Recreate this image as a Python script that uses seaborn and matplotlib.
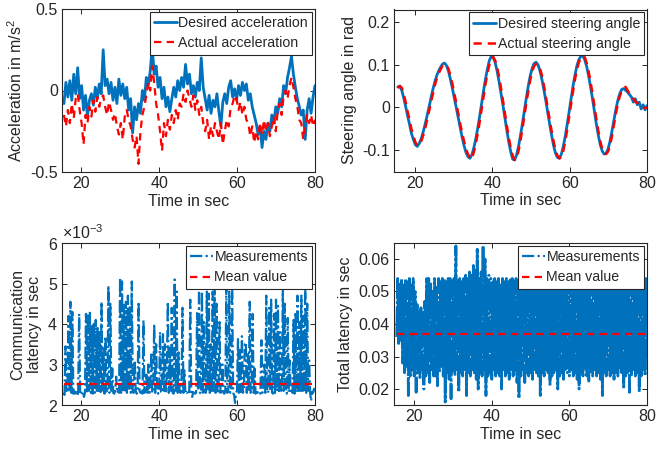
import numpy as np
import pandas as pd
import matplotlib
matplotlib.use("Agg")
import matplotlib.pyplot as plt
import seaborn as sns
from matplotlib.ticker import FuncFormatter

# ---------------- data ----------------
# acceleration, 0.5 s spacing starting ~15.6 s
acc_desired = [
    -0.08, 0.05, -0.04, 0.06, -0.06, 0.10, -0.02, 0.14, -0.05, 0.03,
    -0.12, -0.03, -0.16, -0.06, -0.02, -0.09, 0.02, -0.05, 0.04, -0.02,
    0.25, 0.03, 0.07, -0.02, 0.05, -0.06, 0.02, -0.08, 0.07, -0.03,
    0.04, -0.05, 0.02, -0.12, -0.05, -0.26, -0.10, -0.18, -0.08, -0.14,
    0.00, -0.06, 0.08, 0.03, 0.12, 0.27, 0.10, 0.15, 0.02, 0.08,
    -0.05, 0.02, -0.10, -0.04, -0.13, -0.05, 0.02, -0.04, 0.06, 0.00,
    0.08, 0.02, 0.16, 0.04, 0.10, -0.02, 0.03, -0.04, 0.05, 0.00,
    0.20, 0.02, -0.05, -0.12, -0.03, -0.14, -0.06, -0.10, -0.02, -0.13,
    -0.22, -0.07, -0.02, -0.08, 0.02, 0.06, -0.04, 0.01, -0.06, 0.03,
    -0.03, 0.05, 0.00, 0.04, -0.06, -0.02, -0.10, -0.15, -0.20, -0.27,
    -0.22, -0.35, -0.25, -0.30, -0.20, -0.25, -0.15, -0.20, -0.10, -0.14,
    -0.05, -0.10, 0.03, -0.02, 0.08, 0.14, 0.21, 0.10, 0.02, -0.05,
    -0.10, -0.15, -0.12, -0.30, -0.12, -0.05, -0.14, -0.04, 0.03,
]
acc_actual = [
    -0.15, -0.22, -0.12, -0.20, -0.08, -0.17, -0.05, -0.02, -0.12, -0.20,
    -0.33, -0.15, -0.20, -0.10, -0.16, -0.06, -0.13, -0.04, -0.10, -0.05,
    -0.03, -0.10, -0.15, -0.07, -0.12, -0.18, -0.14, -0.22, -0.27, -0.20,
    -0.30, -0.16, -0.12, -0.18, -0.22, -0.30, -0.35, -0.28, -0.45, -0.25,
    -0.15, -0.10, -0.03, 0.05, 0.00, 0.15, 0.05, -0.08, -0.15, -0.25,
    -0.37, -0.20, -0.28, -0.18, -0.24, -0.15, -0.20, -0.12, -0.18, -0.08,
    -0.10, -0.02, -0.07, 0.00, -0.05, -0.10, -0.03, -0.12, -0.06, -0.15,
    -0.10, -0.20, -0.25, -0.18, -0.30, -0.22, -0.28, -0.20, -0.25, -0.30,
    -0.20, -0.33, -0.25, -0.18, -0.22, -0.10, -0.08, -0.03, -0.05, -0.12,
    -0.07, -0.15, -0.10, -0.18, -0.20, -0.28, -0.22, -0.32, -0.25, -0.30,
    -0.20, -0.27, -0.18, -0.25, -0.20, -0.28, -0.22, -0.16, -0.25, -0.12,
    -0.08, -0.15, -0.03, 0.00, -0.05, 0.03, 0.08, 0.02, -0.05, -0.10,
    -0.18, -0.20, -0.30, -0.22, -0.15, -0.20, -0.15, -0.22, -0.18,
]

# steering angle, 0.5 s spacing
steer_desired = [
    0.048, 0.050, 0.040, 0.022, 0.002, -0.020, -0.040, -0.062, -0.076, -0.088,
    -0.092, -0.085, -0.074, -0.058, -0.040, -0.020, 0.000, 0.022, 0.042, 0.060,
    0.075, 0.086, 0.095, 0.102, 0.104, 0.098, 0.085, 0.066, 0.045, 0.022,
    0.000, -0.024, -0.048, -0.070, -0.090, -0.106, -0.116, -0.120, -0.112, -0.096,
    -0.075, -0.050, -0.022, 0.008, 0.038, 0.066, 0.090, 0.110, 0.120, 0.118,
    0.105, 0.085, 0.060, 0.033, 0.005, -0.025, -0.055, -0.082, -0.105, -0.122,
    -0.124, -0.112, -0.092, -0.066, -0.038, -0.008, 0.022, 0.050, 0.074, 0.092,
    0.103, 0.106, 0.100, 0.086, 0.066, 0.042, 0.016, -0.012, -0.040, -0.066,
    -0.090, -0.108, -0.118, -0.120, -0.110, -0.092, -0.068, -0.040, -0.010, 0.020,
    0.050, 0.076, 0.098, 0.112, 0.120, 0.121, 0.112, 0.096, 0.074, 0.048,
    0.020, -0.010, -0.040, -0.066, -0.088, -0.103, -0.110, -0.108, -0.098, -0.080,
    -0.056, -0.030, -0.005, 0.016, 0.032, 0.042, 0.044, 0.040, 0.036, 0.030,
    0.024, 0.012, 0.020, 0.006, 0.012, -0.004, 0.006, -0.006, 0.004,
]
steer_actual = [
    0.045, 0.050, 0.046, 0.032, 0.012, -0.010, -0.030, -0.052, -0.068, -0.082,
    -0.090, -0.088, -0.080, -0.066, -0.050, -0.030, -0.010, 0.012, 0.032, 0.052,
    0.068, 0.080, 0.090, 0.098, 0.100, 0.100, 0.090, 0.075, 0.055, 0.033,
    0.010, -0.014, -0.038, -0.060, -0.080, -0.098, -0.110, -0.118, -0.122, -0.106,
    -0.086, -0.062, -0.035, -0.005, 0.025, 0.054, 0.080, 0.100, 0.115, 0.118,
    0.110, 0.094, 0.072, 0.045, 0.016, -0.014, -0.044, -0.072, -0.096, -0.114,
    -0.124, -0.120, -0.102, -0.078, -0.050, -0.020, 0.010, 0.038, 0.064, 0.084,
    0.097, 0.102, 0.100, 0.092, 0.075, 0.052, 0.026, -0.002, -0.030, -0.056,
    -0.080, -0.100, -0.114, -0.120, -0.118, -0.102, -0.080, -0.052, -0.022, 0.008,
    0.038, 0.066, 0.088, 0.106, 0.116, 0.120, 0.118, 0.104, 0.084, 0.060,
    0.032, 0.002, -0.028, -0.056, -0.080, -0.098, -0.108, -0.110, -0.104, -0.090,
    -0.068, -0.042, -0.015, 0.008, 0.026, 0.038, 0.044, 0.048, 0.040, 0.032,
    0.026, 0.020, 0.014, 0.010, 0.006, 0.004, 0.000, -0.002, 0.000,
]

# communication latency in ms, 0.25 s spacing from 15.5 s
comm_ms = [
    2.30, 2.25, 3.45, 2.30, 2.35, 4.20, 2.30, 4.55,
    2.30, 4.30, 2.28, 2.35, 2.25, 2.32, 2.22, 2.30,
    4.25, 2.30, 2.35, 2.25, 2.30, 2.20, 2.32, 4.25,
    2.30, 4.25, 2.35, 4.30, 2.30, 3.95, 2.28, 4.00,
    2.30, 4.10, 2.35, 3.90, 2.30, 3.80, 2.32, 4.55,
    2.30, 3.40, 2.28, 3.70, 2.35, 2.30, 4.95, 2.30,
    4.50, 2.35, 2.90, 2.30, 2.28, 2.35, 2.70, 2.30,
    2.35, 2.30, 5.15, 2.30, 5.05, 2.35, 4.50, 2.30,
    4.55, 2.30, 4.70, 2.35, 4.45, 2.30, 5.05, 2.32,
    2.30, 3.10, 2.35, 2.28, 2.30, 4.55, 2.35, 2.30,
    2.32, 2.28, 4.10, 2.30, 2.35, 2.75, 2.30, 3.00,
    2.30, 2.35, 3.30, 2.30, 2.32, 4.00, 2.30, 3.50,
    2.35, 2.28, 2.30, 3.80, 2.32, 2.30, 3.75, 2.35,
    3.50, 2.30, 2.80, 4.55, 2.30, 3.40, 2.35, 4.40,
    2.30, 2.28, 5.10, 2.35, 4.80, 2.30, 3.30, 2.32,
    2.30, 2.35, 4.40, 2.30, 2.85, 2.28, 2.32, 2.30,
    2.25, 2.35, 4.60, 2.30, 2.20, 2.32, 2.30, 2.28,
    2.30, 4.27, 2.35, 4.90, 2.30, 2.28, 4.80, 2.30,
    4.05, 2.32, 2.30, 4.80, 2.35, 4.75, 2.30, 3.50,
    2.30, 4.80, 2.35, 4.95, 2.30, 4.50, 2.28, 2.35,
    4.05, 2.30, 2.35, 3.00, 2.30, 2.28, 2.35, 4.90,
    2.30, 2.35, 4.80, 2.30, 2.32, 4.95, 2.30, 2.25,
    2.05, 2.30, 2.35, 3.65, 2.30, 3.35, 2.32, 3.70,
    2.30, 2.35, 3.50, 3.55, 2.30, 3.25, 2.32, 4.55,
    2.30, 2.35, 4.25, 2.30, 2.90, 2.28, 2.32, 2.30,
    2.35, 2.30, 2.28, 3.60, 2.30, 2.35, 3.00, 2.30,
    4.70, 2.32, 2.30, 4.40, 2.35, 4.60, 2.30, 2.28,
    4.25, 2.30, 4.60, 2.35, 4.45, 2.30, 3.80, 2.32,
    2.30, 4.85, 2.35, 4.50, 2.30, 2.28, 4.15, 2.32,
    3.10, 2.30, 2.35, 2.30, 4.10, 2.28, 4.30, 2.32,
    4.70, 2.30, 4.05, 2.35, 4.70, 2.30, 4.20, 2.32,
    4.95, 2.30, 4.50, 2.35, 3.10, 2.30, 2.10, 2.32,
    2.30, 2.40, 2.35,
]
comm_mean_ms = 2.52

# total latency in ms, 0.25 s spacing from 15.5 s
total_ms = [
    36, 54, 34, 53, 35, 54, 28, 52,
    25, 54, 27, 53, 18, 54, 24, 52,
    26, 54, 24, 50, 19, 46, 25, 44,
    23, 45, 26, 44, 20, 47, 24, 54,
    25, 54, 22, 53, 26, 50, 24, 54,
    24, 52, 21, 54, 25, 53, 27, 54,
    24, 54, 16, 53, 25, 54, 23, 54,
    17, 53, 25, 54, 24, 64, 26, 54,
    19, 54, 25, 53, 24, 54, 26, 55,
    18, 54, 25, 56, 24, 55, 26, 58,
    25, 57, 23, 63, 20, 54, 25, 56,
    24, 65, 26, 60, 18, 54, 24, 55,
    25, 54, 23, 53, 26, 54, 24, 53,
    25, 54, 24, 52, 20, 54, 26, 53,
    24, 54, 25, 53, 23, 54, 26, 54,
    24, 53, 25, 54, 22, 54, 17, 53,
    24, 54, 26, 53, 22, 54, 25, 53,
    24, 55, 25, 54, 23, 53, 26, 54,
    25, 54, 24, 53, 18, 54, 25, 53,
    24, 54, 26, 53, 25, 54, 21, 53,
    24, 54, 25, 53, 26, 54, 20, 53,
    24, 54, 25, 53, 23, 54, 26, 53,
    25, 54, 24, 53, 26, 54, 24, 53,
    25, 54, 23, 53, 20, 54, 25, 53,
    24, 54, 26, 53, 24, 54, 22, 53,
    25, 54, 24, 53, 26, 54, 24, 53,
    25, 54, 23, 53, 18, 54, 25, 53,
    24, 54, 26, 53, 24, 54, 25, 53,
    23, 54, 25, 53, 24, 54, 26, 53,
    25, 54, 20, 53, 24, 54, 25, 53,
    19, 54, 24, 53, 26, 54, 24, 53,
    25, 54, 19, 53, 24, 54, 26, 53,
    24, 54, 30,
]
total_mean_ms = 36.9

x_ticks = [20, 40, 60, 80]

# ---------------- styling ----------------
sns.set_theme(style="ticks")
plt.rcParams['font.family'] = ['Liberation Sans', 'DejaVu Sans']
plt.rcParams['axes.unicode_minus'] = False
plt.rcParams['mathtext.fontset'] = 'custom'
plt.rcParams['mathtext.rm'] = 'Liberation Sans'
plt.rcParams['mathtext.default'] = 'regular'

BLUE = '#0072BD'
RED = '#FF0000'
DARK = '#262626'
FS = 11.5
LEG_FS = 10.2

t_top = np.linspace(15.6, 80, len(acc_desired))
t_bot = np.linspace(15.5, 80, len(comm_ms))

fig = plt.figure(figsize=(6.56, 4.57), dpi=100)
W, H = 656, 457
def pos(l, t, r, b):
    return [l / W, 1 - b / H, (r - l) / W, (b - t) / H]

ax1 = fig.add_axes(pos(62, 9, 315, 172))
ax2 = fig.add_axes(pos(394, 9.5, 647, 171.5))
ax3 = fig.add_axes(pos(62, 243, 315, 405))
ax4 = fig.add_axes(pos(394, 243, 647, 405))

dashed = (0, (3.3, 2.4))
dashdot = (0, (5.5, 1.5, 1.0, 1.5))
dashdot_dense = (0, (11, 1.0, 0.8, 1.0))

# Panel 1: acceleration
sns.lineplot(x=t_top, y=acc_desired, ax=ax1, color=BLUE, lw=2.0,
             estimator=None, sort=False, label='Desired acceleration')
sns.lineplot(x=t_top, y=acc_actual, ax=ax1, color=RED, lw=1.6,
             linestyle=dashed, estimator=None, sort=False,
             label='Actual acceleration')
ax1.set_ylim(-0.5, 0.5)
ax1.set_yticks([-0.5, 0, 0.5])
ax1.set_ylabel('Acceleration in m/s$^2$', fontsize=FS, color=DARK)

# Panel 2: steering
sns.lineplot(x=t_top, y=steer_desired, ax=ax2, color=BLUE, lw=2.0,
             estimator=None, sort=False, label='Desired steering angle')
sns.lineplot(x=t_top, y=steer_actual, ax=ax2, color=RED, lw=1.8,
             linestyle=dashed, estimator=None, sort=False,
             label='Actual steering angle')
ax2.set_ylim(-0.151, 0.23)
ax2.set_yticks([-0.1, 0, 0.1, 0.2])
ax2.set_ylabel('Steering angle in rad', fontsize=FS, color=DARK)

# Panel 3: communication latency
comm = np.array(comm_ms) * 1e-3
sns.lineplot(x=t_bot, y=comm, ax=ax3, color=BLUE, lw=1.6,
             linestyle=dashdot, estimator=None, sort=False,
             label='Measurements')
sns.lineplot(x=[t_bot[0], t_bot[-1]], y=[comm_mean_ms * 1e-3] * 2, ax=ax3,
             color=RED, lw=1.6, linestyle=dashed, estimator=None, sort=False,
             label='Mean value')
ax3.set_ylim(2e-3, 6e-3)
ax3.set_yticks([2e-3, 3e-3, 4e-3, 5e-3, 6e-3])
ax3.ticklabel_format(axis='y', style='sci', scilimits=(-3, -3), useMathText=True)
ax3.yaxis.get_offset_text().set_fontsize(FS)
ax3.yaxis.get_offset_text().set_color(DARK)
ax3.set_ylabel('Communication\nlatency in sec', fontsize=FS, color=DARK,
               linespacing=1.1)

# Panel 4: total latency
total = np.array(total_ms) * 1e-3
sns.lineplot(x=t_bot, y=total, ax=ax4, color=BLUE, lw=2.0,
             linestyle=dashdot_dense, estimator=None, sort=False,
             label='Measurements')
sns.lineplot(x=[t_bot[0], t_bot[-1]], y=[total_mean_ms * 1e-3] * 2, ax=ax4,
             color=RED, lw=1.6, linestyle=dashed, estimator=None, sort=False,
             label='Mean value')
ax4.set_ylim(0.0151, 0.0649)
ax4.set_yticks([0.02, 0.03, 0.04, 0.05, 0.06])
ax4.set_ylabel('Total latency in sec', fontsize=FS, color=DARK)

gfmt = FuncFormatter(lambda v, p: ('%g' % round(v, 6)))
for ax, xl in [(ax1, 15.1), (ax2, 14.6), (ax3, 15.1), (ax4, 14.8)]:
    ax.set_xlim(xl, 80)
    ax.set_xticks(x_ticks)
    ax.set_xlabel('Time in sec', fontsize=FS, color=DARK, labelpad=2)
    ax.tick_params(direction='in', length=3.5, width=0.7, labelsize=FS,
                   colors=DARK, top=True, right=True, pad=3)
    for s in ax.spines.values():
        s.set_visible(True)
        s.set_color(DARK)
        s.set_linewidth(0.8)
    ax.grid(False)
    if ax is not ax3:
        ax.yaxis.set_major_formatter(gfmt)
    leg = ax.legend(loc='upper right', fontsize=LEG_FS, frameon=True,
                    fancybox=False, edgecolor=DARK, framealpha=1,
                    borderaxespad=0.2, handlelength=1.6, handletextpad=0.12,
                    borderpad=0.3, labelspacing=0.45)
    leg.get_frame().set_linewidth(0.8)

# legend handle of the dense series keeps the plain dash-dot look
for line in ax4.get_legend().get_lines()[:1]:
    line.set_linestyle(dashdot)
    line.set_linewidth(1.6)

fig.savefig('out.png', dpi=100)
